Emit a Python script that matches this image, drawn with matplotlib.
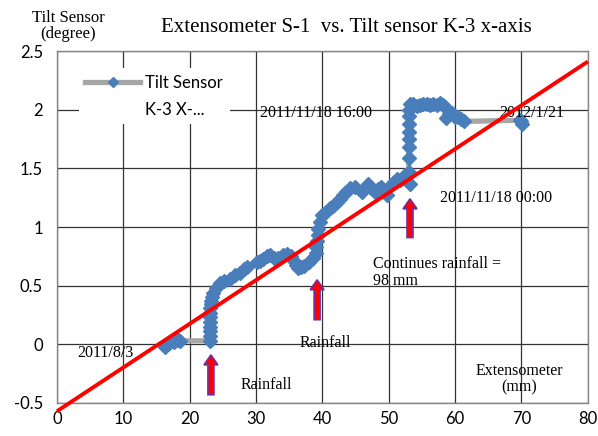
import matplotlib.pyplot as plt
from matplotlib.lines import Line2D
from matplotlib.patches import FancyArrow

# extensometer (mm) vs tilt sensor K-3 x-axis (degree)
ext = [16.3, 16.8, 17.2, 17.6, 18.0, 18.3, 18.6,
       23.0, 23.0, 23.0, 23.0, 23.1, 23.1, 23.1, 23.1, 23.2, 23.2, 23.3,
       23.5, 23.9, 24.5, 25.2, 26.0, 26.8, 27.6, 28.2, 28.6,
       30.1, 30.6, 31.0, 31.6, 32.1, 32.7, 33.3, 34.0, 34.6, 35.2, 35.6,
       36.0, 36.3, 36.8, 37.3, 38.0, 38.6,
       39.0, 39.1, 39.2, 39.3, 39.4, 39.6, 39.9, 40.5, 41.1, 41.6, 42.2,
       42.6, 43.1, 43.6, 44.1, 44.9, 45.9, 46.4, 46.8, 47.3, 47.9, 48.4,
       48.9, 49.3, 49.8, 50.4, 50.8, 51.2, 51.7, 52.1, 52.5, 52.9, 53.2,
       53.0, 53.0, 53.0, 53.0, 53.0, 53.0, 53.0, 53.1, 53.2,
       53.6, 54.2, 54.7, 55.2, 55.7, 56.2, 56.6, 57.2, 57.7, 58.2, 58.4,
       58.7, 59.1, 59.5, 60.0, 60.4, 60.9, 61.4, 69.8, 70.0, 70.1]
tilt = [-0.02, 0.00, 0.03, 0.02, 0.05, 0.04, 0.03,
        0.03, 0.07, 0.11, 0.15, 0.19, 0.23, 0.27, 0.31, 0.34, 0.37, 0.40,
        0.44, 0.48, 0.52, 0.54, 0.56, 0.59, 0.61, 0.64, 0.66,
        0.70, 0.71, 0.73, 0.75, 0.76, 0.74, 0.74, 0.76, 0.77, 0.75, 0.72,
        0.68, 0.65, 0.66, 0.67, 0.70, 0.74,
        0.78, 0.83, 0.88, 0.93, 0.98, 1.04, 1.10, 1.13, 1.16, 1.18, 1.21,
        1.24, 1.27, 1.30, 1.33, 1.34, 1.30, 1.33, 1.37, 1.33, 1.30, 1.32,
        1.34, 1.30, 1.27, 1.36, 1.38, 1.41, 1.40, 1.42, 1.44, 1.45, 1.37,
        1.47, 1.59, 1.68, 1.75, 1.81, 1.88, 1.95, 2.00, 2.05,
        2.05, 2.03, 2.04, 2.05, 2.05, 2.04, 2.05, 2.04, 2.06, 2.04, 2.02,
        1.93, 1.96, 1.97, 1.94, 1.94, 1.92, 1.90, 1.91, 1.90, 1.88]

# trend line end points
trend_x = [0, 80]
trend_y = [-0.57, 2.41]

# rainfall arrows: x, tail y, tip y
arrow_x = [23.2, 39.2, 53.2]
arrow_y0 = [-0.43, 0.21, 0.91]
arrow_y1 = [-0.09, 0.55, 1.24]

xticks = [0, 10, 20, 30, 40, 50, 60, 70, 80]
yticks = [-0.5, 0, 0.5, 1, 1.5, 2, 2.5]
ylabels = ["-0.5", "0", "0.5", "1", "1.5", "2", "2.5"]

serif = "Liberation Serif"
sans = "Lato"

fig = plt.figure(figsize=(5.98, 4.36), dpi=100)
ax = fig.add_axes([0.0953, 0.0757, 0.8877, 0.8073])

ax.plot(ext, tilt, color="#A6A6A6", lw=3.8, marker="D", ms=7.2,
        mfc="#4A7EBB", mec="#4A7EBB", zorder=3)
ax.plot(trend_x, trend_y, color="#FF0000", lw=2.8, zorder=4,
        solid_capstyle="butt", clip_on=False)

for xa, ya0, ya1 in zip(arrow_x, arrow_y0, arrow_y1):
    ax.add_patch(FancyArrow(xa, ya0, 0, ya1 - ya0, width=0.9, head_width=2.1,
                            head_length=0.085, length_includes_head=True,
                            fc="#FF0000", ec="#7030A0", lw=1.2, zorder=5))

ax.set_xlim(0, 80)
ax.set_ylim(-0.5, 2.5)
ax.set_xticks(xticks)
ax.set_yticks(yticks)
ax.set_yticklabels(ylabels)
ax.tick_params(length=0, labelsize=12)
ax.tick_params(axis="y", pad=10)
ax.tick_params(axis="x", pad=6)
for lab in ax.get_xticklabels() + ax.get_yticklabels():
    lab.set_family(sans)
ax.grid(True, color="#333333", lw=0.9)
ax.set_axisbelow(True)
for sp in ax.spines.values():
    sp.set_color("#868686")
    sp.set_linewidth(1.0)

h1 = Line2D([], [], color="#A6A6A6", lw=3.8, marker="D", ms=5.5,
            mfc="#4A7EBB", mec="#4A7EBB")
h2 = Line2D([], [], linestyle="none")
leg = ax.legend([h1, h2], ["Tilt Sensor", "K-3 X-..."], loc="upper left",
                bbox_to_anchor=(0.025, 0.975), frameon=True,
                prop={"family": sans, "size": 12}, handlelength=3.3,
                borderpad=0.4, handletextpad=0.3, labelspacing=0.65)
leg.get_frame().set_facecolor("white")
leg.get_frame().set_edgecolor("none")
leg.get_frame().set_alpha(1)

fs = 11.5
ax.text(30.6, 1.97, "2011/11/18 16:00", family=serif, fontsize=fs, va="center")
ax.text(66.7, 1.97, "2012/1/21", family=serif, fontsize=fs, va="center")
ax.text(57.7, 1.25, "2011/11/18 00:00", family=serif, fontsize=fs, va="center")
ax.text(47.6, 0.75, "Continues rainfall =\n98 mm", family=serif, fontsize=fs,
        va="top", linespacing=1.05)
ax.text(36.6, 0.01, "Rainfall", family=serif, fontsize=fs, va="center")
ax.text(27.6, -0.35, "Rainfall", family=serif, fontsize=fs, va="center")
ax.text(3.0, -0.07, "2011/8/3", family=serif, fontsize=fs, va="center")
ax.text(69.7, -0.30, "Extensometer\n(mm)", family=serif, fontsize=fs,
        ha="center", va="center", linespacing=1.05)

fig.text(0.58, 0.936, "Extensometer S-1  vs. Tilt sensor K-3 x-axis",
         family=serif, fontsize=15, ha="center", va="center")
fig.text(0.114, 0.94, "Tilt Sensor\n(degree)", family=serif, fontsize=12,
         ha="center", va="center", linespacing=0.95)

fig.savefig("out.png", dpi=100)
